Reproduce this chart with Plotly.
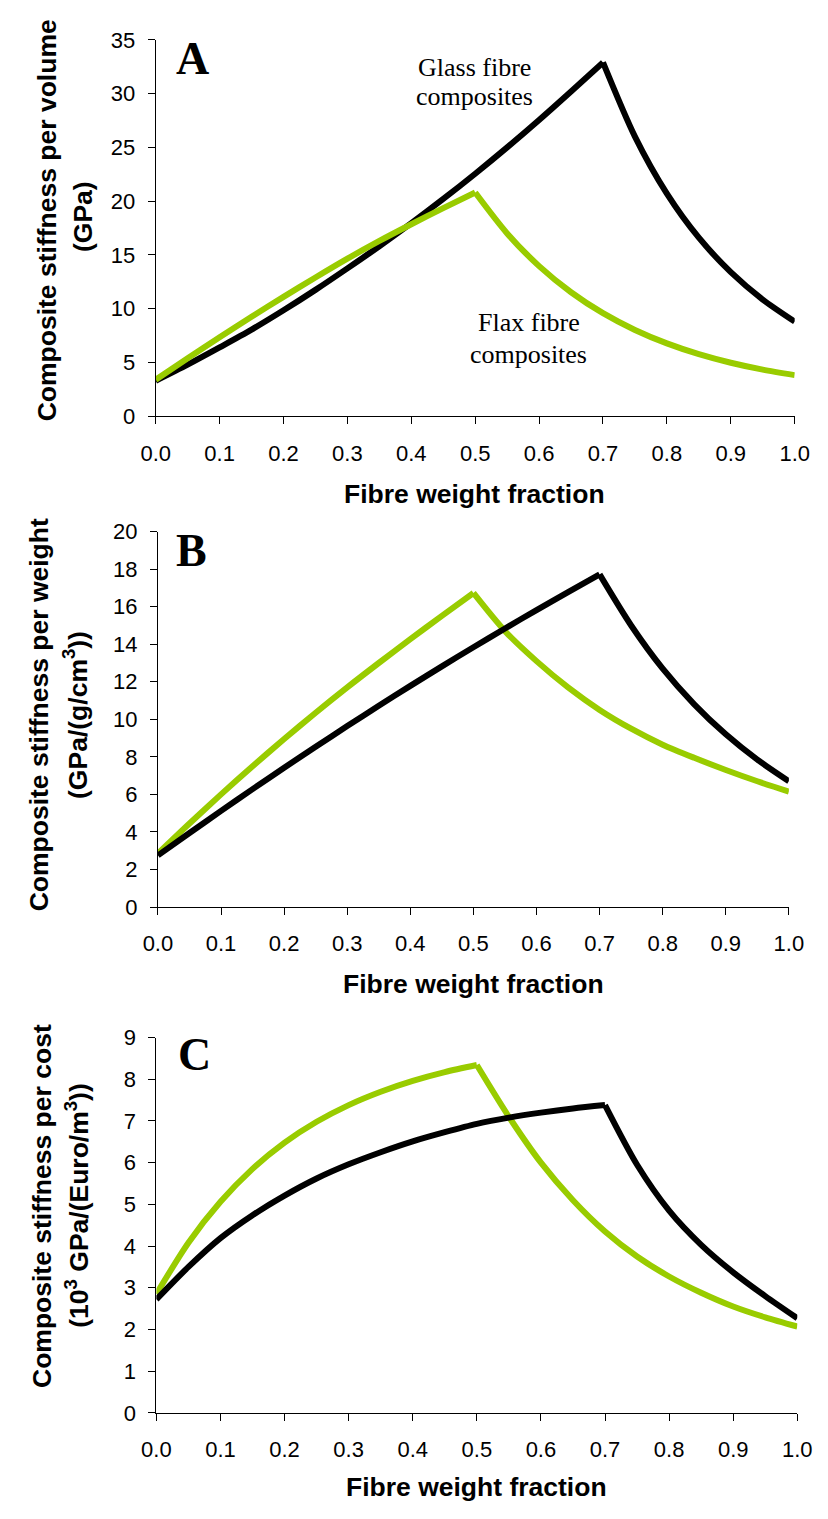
import plotly.graph_objects as go

# ---------------- data ----------------
fibre_weight_fraction = [0.0, 0.05, 0.1, 0.15, 0.2, 0.25, 0.3, 0.35, 0.4, 0.45, 0.5,
                         0.55, 0.6, 0.65, 0.7, 0.75, 0.8, 0.85, 0.9, 0.95, 1.0]

# Panel A: stiffness per volume (GPa)
glass_volume = [3.3, 4.8, 6.4, 8.05, 9.85, 11.75, 13.75, 15.8, 17.95, 20.2, 22.55,
                25.0, 27.55, 30.2, 32.9, 26.0, 20.7, 16.6, 13.4, 10.85, 8.8]
flax_volume = [3.4, 5.4, 7.35, 9.25, 11.1, 12.9, 14.65, 16.3, 17.85, 19.35, 20.8,
               17.0, 13.96, 11.53, 9.58, 8.02, 6.77, 5.77, 4.97, 4.33, 3.82]

# Panel B: stiffness per weight (GPa/(g/cm3))
glass_weight = [2.75, 3.94, 5.12, 6.28, 7.42, 8.54, 9.64, 10.72, 11.78, 12.82, 13.84,
                14.84, 15.82, 16.78, 17.72, 15.0, 12.7, 10.8, 9.2, 7.85, 6.7]
flax_weight = [2.85, 4.45, 6.0, 7.5, 8.95, 10.35, 11.7, 13.0, 14.27, 15.51, 16.73,
               14.7, 13.1, 11.7, 10.5, 9.5, 8.65, 7.95, 7.3, 6.7, 6.15]

# Panel C: stiffness per cost (10^3 GPa/(Euro/m3))
glass_cost = [2.72, 3.5, 4.19, 4.74, 5.21, 5.62, 5.96, 6.25, 6.51, 6.73, 6.93,
              7.08, 7.2, 7.3, 7.38, 5.95, 4.85, 4.03, 3.37, 2.8, 2.27]
flax_cost = [2.85, 4.08, 5.06, 5.85, 6.48, 6.98, 7.38, 7.7, 7.96, 8.17, 8.34,
             7.1, 6.0, 5.1, 4.35, 3.75, 3.27, 2.88, 2.55, 2.29, 2.07]

glass_peak_fraction = 0.7
flax_peak_fraction = 0.5

x_ticks = [0.0, 0.1, 0.2, 0.3, 0.4, 0.5, 0.6, 0.7, 0.8, 0.9, 1.0]
x_tick_text = ["0.0", "0.1", "0.2", "0.3", "0.4", "0.5", "0.6", "0.7", "0.8", "0.9", "1.0"]

# ---------------- layout helpers ----------------
W, H = 828, 1519
GREEN = "#99CC00"
BLACK = "#000000"
SANS = "Liberation Sans, Arial, sans-serif"
SERIF = "Liberation Serif, Times New Roman, serif"


def px(x):
    return x / W


def py(y):
    return 1 - y / H


# pixel boxes of each plot area: (left, right, top, bottom)
boxes = {
    "A": (146, 809, 28.3, 411),
    "B": (148.3, 803, 528.3, 910),
    "C": (146.7, 811.7, 1042.7, 1424.3),
}

fig = go.Figure()


def add_curve(xs, ys, peak, color, xa, ya):
    k = xs.index(peak)
    for seg_x, seg_y in ((xs[:k + 1], ys[:k + 1]), (xs[k:], ys[k:])):
        fig.add_trace(go.Scatter(
            x=seg_x, y=seg_y, mode="lines",
            line=dict(color=color, width=6, shape="spline", smoothing=0.8),
            xaxis=xa, yaxis=ya, hoverinfo="skip", showlegend=False))


# Panel A: black first, green on top
add_curve(fibre_weight_fraction, glass_volume, glass_peak_fraction, BLACK, "x", "y")
add_curve(fibre_weight_fraction, flax_volume, flax_peak_fraction, GREEN, "x", "y")
# Panel B/C: green first, black on top
add_curve(fibre_weight_fraction, flax_weight, flax_peak_fraction, GREEN, "x2", "y2")
add_curve(fibre_weight_fraction, glass_weight, glass_peak_fraction, BLACK, "x2", "y2")
add_curve(fibre_weight_fraction, flax_cost, flax_peak_fraction, GREEN, "x3", "y3")
add_curve(fibre_weight_fraction, glass_cost, glass_peak_fraction, BLACK, "x3", "y3")

axis_common = dict(
    showline=True, linecolor="#000", linewidth=1,
    ticks="outside", ticklen=7, tickwidth=1, tickcolor="#000",
    showgrid=False, zeroline=False,
    tickfont=dict(family=SANS, size=22, color="#000"),
)

y_specs = {"A": (35, 5), "B": (20, 2), "C": (9, 1)}
names = ["A", "B", "C"]
layout_axes = {}
for i, name in enumerate(names):
    l, r, t, b = boxes[name]
    suffix = "" if i == 0 else str(i + 1)
    ymax, dt = y_specs[name]
    layout_axes["xaxis" + suffix] = dict(
        axis_common, domain=[px(l), px(r)], range=[0, 1],
        tickvals=x_ticks, ticktext=x_tick_text,
        anchor="y" + suffix, ticklabelstandoff=10)
    layout_axes["yaxis" + suffix] = dict(
        axis_common, domain=[py(b), py(t)], range=[0, ymax],
        tick0=0, dtick=dt, anchor="x" + suffix, ticklabelstandoff=8)

fig.update_layout(
    width=W, height=H,
    margin=dict(l=0, r=0, t=0, b=0),
    plot_bgcolor="white", paper_bgcolor="white",
    showlegend=False,
    **layout_axes,
)

annotations = []


def ann(text, x, y, size, family=SANS, angle=0, xanchor="center", yanchor="middle"):
    annotations.append(dict(
        text=text, x=px(x), y=py(y), xref="paper", yref="paper",
        showarrow=False, textangle=angle, xanchor=xanchor, yanchor=yanchor,
        font=dict(family=family, size=size, color="#000")))


# panel letters
ann("<b>A</b>", 184, 47, 46, SERIF)
ann("<b>B</b>", 183, 548, 46, SERIF)
ann("<b>C</b>", 186, 1060, 46, SERIF)

# curve labels in panel A
ann("Glass fibre", 477, 56, 26, SERIF)
ann("composites", 477, 86, 26, SERIF)
ann("Flax fibre", 533, 316, 26, SERIF)
ann("composites", 533, 348, 26, SERIF)

# y-axis titles
ann("<b>Composite stiffness per volume</b>", 33, 212, 26.5, angle=-90)
ann("<b>(GPa)</b>", 70, 208, 26.5, angle=-90)
ann("<b>Composite stiffness per weight</b>", 25, 715, 26.5, angle=-90)
ann("<b>(GPa/(g/cm<sup>3</sup>))</b>", 63, 715, 26.5, angle=-90)
ann("<b>Composite stiffness per cost</b>", 28, 1214, 26.5, angle=-90)
ann("<b>(10<sup>3</sup> GPa/(Euro/m<sup>3</sup>))</b>", 64, 1214, 26.5, angle=-90)

# x-axis titles
ann("<b>Fibre weight fraction</b>", 477, 490, 26.5)
ann("<b>Fibre weight fraction</b>", 476, 988, 26.5)
ann("<b>Fibre weight fraction</b>", 479, 1500, 26.5)

fig.update_layout(annotations=annotations)

fig.write_html("out.html")
